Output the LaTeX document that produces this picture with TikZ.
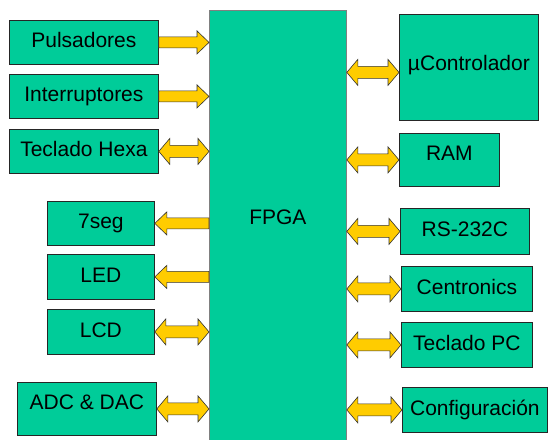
\documentclass[tikz,border=0pt]{standalone}
\usepackage{fontspec}
\setmainfont{Liberation Sans}
\usetikzlibrary{calc}

\definecolor{boxgreen}{RGB}{0,204,153}
\definecolor{busyellow}{RGB}{255,204,0}

% single bus arrow, head at the second point
\newcommand{\onebus}[2]{%
  \filldraw[bus] let \p1=#1, \p2=#2, \n1={sign(\x2-\x1)*12} in
    (\x1,\y1+5.5) -- (\x2-\n1,\y1+5.5) -- (\x2-\n1,\y1+11.5) -- (\x2,\y1)
    -- (\x2-\n1,\y1-11.5) -- (\x2-\n1,\y1-5.5) -- (\x1,\y1-5.5) -- cycle;}

% double bus arrow, heads at both points
\newcommand{\twobus}[2]{%
  \filldraw[bus] let \p1=#1, \p2=#2, \n1={sign(\x2-\x1)*11} in
    (\x1,\y1) -- (\x1+\n1,\y1+13) -- (\x1+\n1,\y1+6) -- (\x2-\n1,\y1+6)
    -- (\x2-\n1,\y1+13) -- (\x2,\y1) -- (\x2-\n1,\y1-13) -- (\x2-\n1,\y1-6)
    -- (\x1+\n1,\y1-6) -- (\x1+\n1,\y1-13) -- cycle;}

\begin{document}
\begin{tikzpicture}[x=1pt, y=-1pt,
    block/.style={draw=black!85, fill=boxgreen, line width=0.8pt, anchor=north west,
                  inner sep=0pt, text height=15pt, text depth=4pt,
                  font=\fontsize{21}{25}\selectfont},
    bus/.style={draw=black!80, fill=busyellow, line width=0.6pt, line join=miter}
]

\useasboundingbox (0,0) rectangle (548,439);

% FPGA
\node[block, draw=black!50, minimum width=137, minimum height=440, text depth=27pt]
    (fpga) at (209,10) {FPGA};

% Left side
\node[block, minimum width=149, minimum height=44] (pul) at (9,20)  {Pulsadores};
\node[block, minimum width=149, minimum height=44] (int) at (9,74)  {Interruptores};
\node[block, minimum width=149, minimum height=44] (hex) at (9,129) {Teclado Hexa};
\node[block, minimum width=107, minimum height=44] (seg) at (47,201) {7seg};
\node[block, minimum width=107, minimum height=45] (led) at (47,254) {LED};
\node[block, minimum width=107, minimum height=45] (lcd) at (47,309) {LCD};
\node[block, minimum width=139, minimum height=53, text depth=14pt] (adc) at (17,382) {ADC \& DAC};

% Right side
\node[block, minimum width=139, minimum height=106, text depth=9pt] (mu) at (399,14) {µControlador};
\node[block, minimum width=100, minimum height=53, text depth=14pt] (ram) at (399,133) {RAM};
\node[block, minimum width=129, minimum height=46] (rs)  at (400,208) {RS-232C};
\node[block, minimum width=131, minimum height=45] (cen) at (401,266) {Centronics};
\node[block, minimum width=131, minimum height=45] (tpc) at (401,322) {Teclado PC};
\node[block, minimum width=145, minimum height=45] (cfg) at (402,387) {Configuración};

% Buses
\onebus{(pul.east)}{(fpga.west |- pul.east)}
\onebus{(int.east)}{(fpga.west |- int.east)}
\twobus{(hex.east)}{(fpga.west |- hex.east)}
\onebus{(fpga.west |- seg.east)}{(seg.east)}
\onebus{(fpga.west |- led.east)}{(led.east)}
\twobus{(lcd.east)}{(fpga.west |- lcd.east)}
\twobus{(adc.east)}{(fpga.west |- adc.east)}

\coordinate (mubus) at ($(mu.west)+(0,5)$);
\twobus{(fpga.east |- mubus)}{(mubus)}
\twobus{(fpga.east |- ram.west)}{(ram.west)}
\twobus{(fpga.east |- rs.west)}{(rs.west)}
\twobus{(fpga.east |- cen.west)}{(cen.west)}
\twobus{(fpga.east |- tpc.west)}{(tpc.west)}
\twobus{(fpga.east |- cfg.west)}{(cfg.west)}

\end{tikzpicture}
\end{document}
